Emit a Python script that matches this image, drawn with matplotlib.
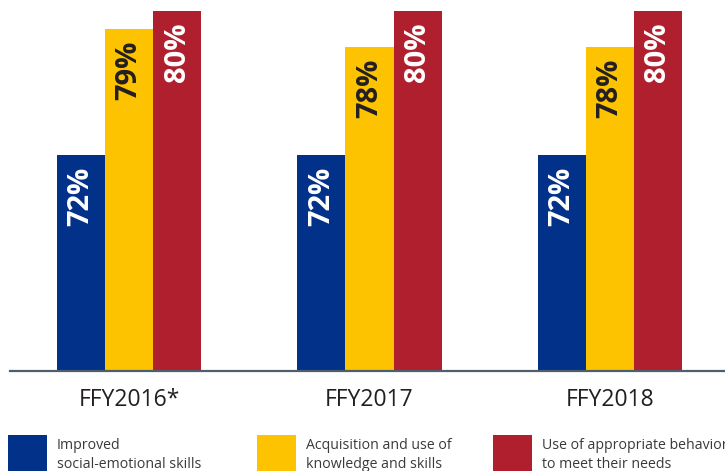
import matplotlib
matplotlib.use("Agg")
import matplotlib.pyplot as plt
from matplotlib.patches import Rectangle
import numpy as np

years = ["FFY2016*", "FFY2017", "FFY2018"]
series_names = ["Improved\nsocial-emotional skills",
                "Acquisition and use of\nknowledge and skills",
                "Use of appropriate behaviors\nto meet their needs"]
social_emotional = [72, 72, 72]
knowledge_skills = [79, 78, 78]
appropriate_behaviors = [80, 80, 80]

colors = ["#02318A", "#FEC300", "#B01F2D"]
label_colors = ["white", "#231F20", "white"]

plt.rcParams['font.family'] = ['Open Sans', 'DejaVu Sans']

W, H = 725, 471
fig = plt.figure(figsize=(W / 100, H / 100), dpi=100)
ax_left = 10 / W
ax_bottom = 1 - 371 / H
ax = fig.add_axes([ax_left, ax_bottom, 1 - ax_left, 371 / H])

x = np.arange(len(years))
width = 0.2
all_series = [social_emotional, knowledge_skills, appropriate_behaviors]
for i, (vals, col, lc) in enumerate(zip(all_series, colors, label_colors)):
    xs = x + (i - 1) * width
    ax.bar(xs, np.array(vals) - 60, width=width, bottom=60, color=col, linewidth=0, zorder=2)
    for xi, v in zip(xs, vals):
        ax.annotate(f"{v}%", xy=(xi, v), xytext=(0, -8.5), textcoords="offset points",
                    rotation=90, ha="center", va="top", color=lc,
                    fontsize=21, fontweight="bold", zorder=3)

ax.set_ylim(60, 60 + 371 / 18)
ax.set_xlim(-(129 - 10) / 240, 2 + (725 - 610) / 240)
for s in ["top", "left", "right"]:
    ax.spines[s].set_visible(False)
ax.spines["bottom"].set_color("#4F5E6C")
ax.spines["bottom"].set_linewidth(1.6)
ax.set_yticks([])
ax.set_xticks(x)
ax.set_xticklabels(years, fontsize=16.5, color="#231F20")
ax.tick_params(axis="x", length=0, pad=12.5)

# legend
sq_x = [8, 257, 493]
for sx, col, name in zip(sq_x, colors, series_names):
    fig.patches.append(Rectangle((sx / W, 0), 39 / W, (H - 435) / H,
                                 transform=fig.transFigure, facecolor=col,
                                 edgecolor="none"))
    fig.text((sx + 49) / W, 1 - 438 / H, name, fontsize=10.2, color="#3A3A3A",
             ha="left", va="top", linespacing=1.4)

fig.savefig("out.png", dpi=100)
